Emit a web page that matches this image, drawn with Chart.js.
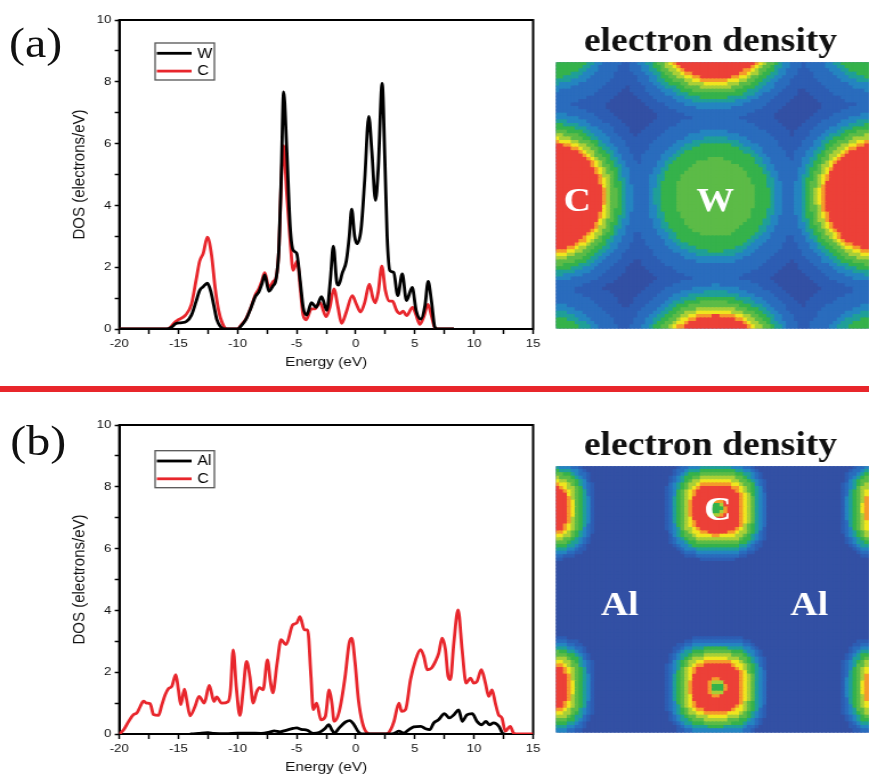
<!DOCTYPE html>
<html>
<head>
<meta charset="utf-8">
<script src="https://cdn.jsdelivr.net/npm/chart.js@4.4.1/dist/chart.umd.min.js"></script>
<style>
  html, body { margin: 0; padding: 0; background: #fff; overflow: hidden; }
  body { width: 869px; height: 777px; position: relative; }
  /* the whole sheet is laid out narrow and stretched sideways */
  #sheet { position: absolute; left: 0; top: 0; width: 762px; height: 777px;
           transform: scaleX(1.1404); transform-origin: 0 0; }
  .box { position: absolute; }
  .tag { position: absolute; font: 42px "Liberation Serif", serif; line-height: 42px; color: #111; }
  #rule { position: absolute; left: 0; top: 386px; width: 762px; height: 6px; background: #e8262b; }
</style>
</head>
<body>
<div id="sheet">
  <div class="tag" style="left:8px; top:22px">(a)</div>
  <div class="tag" style="left:9px; top:420px">(b)</div>
  <div id="rule"></div>
  <div class="box" style="left:0; top:0; width:478px; height:372px"><canvas id="dosA"></canvas></div>
  <div class="box" style="left:0; top:405px; width:478px; height:372px"><canvas id="dosB"></canvas></div>
  <div class="box" style="left:484px; top:0; width:288px; height:332px"><canvas id="mapA"></canvas></div>
  <div class="box" style="left:484px; top:404px; width:288px; height:332px"><canvas id="mapB"></canvas></div>
</div>
<script>
/* ---- DOS of WC ---- */
const energyW = [-20, -16, -15.6, -15.2, -14.8, -14.3, -13.9, -13.5, -13.2, -12.9, -12.55, -12.25, -12.0, -11.75, -11.45, -11.1,
  -10.0, -9.7, -9.3, -8.9, -8.5, -8.2, -7.95, -7.7, -7.35, -7.0, -6.75, -6.5, -6.3, -6.1, -5.85, -5.55, -5.3, -5.0, -4.7, -4.45,
  -4.15, -3.75, -3.35, -2.9, -2.45, -2.15, -1.9, -1.6, -1.45, -1.15, -0.8, -0.55, -0.35, -0.1, 0.1, 0.45, 0.75, 1.1, 1.35, 1.67,
  1.9, 2.23, 2.45, 2.65, 2.88, 3.2, 3.55, 3.93, 4.29, 4.77, 5.1, 5.5, 5.85, 6.12, 6.4, 6.69, 6.9, 8.3];
const dosW = [0, 0, 0.05, 0.18, 0.2, 0.25, 0.45, 0.9, 1.25, 1.37, 1.48, 1.2, 0.75, 0.3, 0.08, 0,
  0, 0.1, 0.3, 0.65, 1.05, 1.2, 1.45, 1.75, 1.22, 1.4, 1.6, 2.6, 5.0, 7.67, 5.9, 3.3, 2.55, 2.45, 1.55, 0.7,
  0.45, 0.85, 0.7, 1.05, 0.6, 1.6, 2.68, 1.5, 1.42, 1.8, 2.2, 3.0, 3.88, 3.0, 2.76, 3.25, 4.8, 6.88, 5.8, 4.16,
  5.2, 7.95, 5.6, 3.0, 1.89, 1.83, 1.08, 1.78, 0.92, 1.35, 0.6, 0.32, 0.75, 1.54, 0.9, 0.05, 0, 0];

const energyCa = [-20, -16, -15.7, -15.3, -15.0, -14.4, -13.9, -13.5, -13.2, -12.9, -12.55, -12.2, -11.9, -11.6, -11.3, -10.9,
  -10.0, -9.7, -9.3, -8.9, -8.5, -8.2, -7.95, -7.7, -7.35, -6.95, -6.75, -6.5, -6.3, -6.1, -5.85, -5.55, -5.3, -4.95, -4.7, -4.45,
  -4.2, -3.75, -3.45, -3.05, -2.5, -2.2, -1.85, -1.5, -1.2, -0.8, -0.3, 0.05, 0.4, 0.75, 1.15, 1.45, 1.65, 1.9, 2.2, 2.5,
  2.85, 3.1, 3.45, 3.75, 4.0, 4.3, 4.8, 5.1, 5.42, 5.75, 6.1, 6.35, 6.65, 6.9, 8.3];
const dosCa = [0, 0, 0.05, 0.22, 0.3, 0.45, 0.8, 1.6, 2.2, 2.45, 2.97, 2.4, 1.35, 0.6, 0.2, 0,
  0, 0.13, 0.32, 0.67, 1.1, 1.3, 1.55, 1.82, 1.35, 1.55, 1.65, 2.6, 4.8, 5.93, 4.45, 2.86, 1.9, 2.2, 1.35, 0.45,
  0.3, 0.65, 0.65, 0.86, 0.4, 0.7, 1.3, 0.7, 0.18, 0.55, 1.08, 0.8, 0.55, 0.85, 1.45, 1.0, 0.85, 1.2, 2.03, 1.25,
  0.9, 0.9, 0.6, 0.5, 0.58, 0.43, 0.7, 0.45, 0.15, 0.4, 0.8, 0.5, 0.07, 0, 0];

/* ---- DOS of Al4C3 ---- */
const energyAl = [-14, -13.3, -12.5, -12.0, -11, -10, -9, -8, -7.3, -6.9, -6.4, -5.9, -5.3, -5.0, -4.6, -4.1, -3.6, -3.1,
  -2.6, -2.3, -2.0, -1.8, -1.4, -0.9, -0.5, -0.15, 0.2, 0.5, 3.0, 3.3, 3.65, 4.05, 4.5, 4.9, 5.5, 5.9, 6.25, 6.6,
  7.0, 7.5, 7.9, 8.3, 8.7, 9.0, 9.4, 9.85, 10.25, 10.65, 11.0, 11.3, 11.65, 12.1, 12.4, 12.6];
const dosAl = [0, 0.02, 0.04, 0.02, 0.01, 0.03, 0.03, 0.02, 0.06, 0.1, 0.07, 0.12, 0.18, 0.2, 0.15, 0.12, 0.02, 0.05,
  0.18, 0.3, 0.12, 0.03, 0.2, 0.38, 0.43, 0.3, 0.08, 0, 0, 0.03, 0.09, 0.03, 0.14, 0.23, 0.25, 0.17, 0.14, 0.36,
  0.46, 0.66, 0.52, 0.62, 0.78, 0.41, 0.62, 0.66, 0.41, 0.3, 0.41, 0.3, 0.36, 0.25, 0.03, 0];

const energyCb = [-20, -19.63, -19.21, -18.79, -18.51, -18.23, -17.95, -17.67, -17.39, -17.11, -16.69, -16.4, -16.12, -15.84,
  -15.56, -15.22, -15.0, -14.8, -14.49, -14.3, -14.02, -13.6, -13.26, -12.81, -12.39, -11.99, -11.77, -11.35, -10.79, -10.6,
  -10.37, -10.1, -9.8, -9.52, -9.24, -8.96, -8.68, -8.4, -8.15, -7.84, -7.47, -7.22, -7.02, -6.65, -6.32, -5.9, -5.34, -5.0,
  -4.72, -4.35, -4.07, -3.79, -3.6, -3.31, -2.95, -2.58, -2.25, -2.02, -1.83, -1.4, -0.9, -0.56, -0.34, -0.06, 0.22, 0.56,
  0.98, 1.3, 2.6, 2.95, 3.23, 3.65, 3.88, 4.21, 4.63, 5.06, 5.48, 5.76, 6.04, 6.4, 6.74, 7.02, 7.3, 7.58, 7.81, 8.0, 8.29,
  8.65, 8.99, 9.33, 9.7, 9.97, 10.25, 10.62, 10.96, 11.24, 11.52, 11.8, 12.08, 12.36, 12.64, 13.06, 13.34, 13.62, 15];
const dosCb = [0, 0.14, 0.41, 0.63, 0.68, 0.89, 1.06, 1.0, 0.98, 0.63, 0.6, 0.95, 1.27, 1.47,
  1.54, 1.92, 1.43, 0.95, 1.45, 1.1, 0.59, 0.89, 1.22, 1.0, 1.57, 1.05, 1.2, 1.0, 1.05, 1.4,
  2.72, 1.5, 0.6, 1.43, 2.35, 1.86, 1.0, 1.35, 1.5, 1.43, 2.4, 1.7, 1.33, 2.3, 3.05, 2.89, 3.53, 3.59,
  3.8, 3.37, 3.37, 1.86, 0.79, 1.0, 0.46, 0.57, 1.43, 1.0, 0.41, 0.73, 1.86, 2.94, 3.1, 2.3, 1.11, 0.36,
  0.03, 0, 0, 0.14, 0.41, 1.0, 0.73, 0.79, 1.76, 2.4, 2.73, 2.5, 2.08, 2.13, 2.35, 2.62, 3.1, 2.73, 1.86, 1.76, 2.94,
  4.02, 2.73, 1.65, 1.81, 1.65, 1.7, 2.08, 1.65, 1.22, 1.43, 1.0, 0.62, 0.52, 0.09, 0.25, 0.03, 0, 0];

const energyTicks = [-20, -15, -10, -5, 0, 5, 10, 15];
const dosTicks = [0, 2, 4, 6, 8, 10];

/* ---- charge density maps: atomic sites in fractions of the map ---- */
const sitesAx = [-0.025, 1.035, 0.51, 0.51, 0.51, -0.025, 1.035, -0.025, 1.035];
const sitesAy = [0.51, 0.51, -0.138, 1.158, 0.51, -0.138, -0.138, 1.158, 1.158];
const sitesAkind = ['C', 'C', 'C', 'C', 'W', 'W', 'W', 'W', 'W'];
const labelsAtext = ['C', 'W'];
const labelsAx = [0.068, 0.509];
const labelsAy = [0.528, 0.528];

const sitesBx = [-0.038, 0.516, 1.076, -0.038, 0.516, 1.076];
const sitesBy = [0.163, 0.163, 0.163, 0.833, 0.833, 0.833];
const sitesBkind = ['C', 'C', 'C', 'C', 'C', 'C'];
const labelsBtext = ['C', 'Al', 'Al'];
const labelsBx = [0.517, 0.204, 0.809];
const labelsBy = [0.168, 0.525, 0.525];

// contour colours, low to high density
const bandColors = ['#3350a4', '#2d5db3', '#2a6cbd', '#2485c0', '#1f9f98', '#35b24b',
  '#5cbb47', '#a9cf38', '#efe51f', '#f59a2b', '#ec4038'];

// [outer radius in px, band] from the centre of each atom outwards
const bandsA = {
  C: [[55, 10], [58, 9], [61, 8], [65, 7], [70, 6], [75, 5], [80, 4], [86, 3], [96, 2], [108, 1]],
  W: [[40, 6], [55, 5], [61, 4], [68, 3], [84, 2], [100, 1]]
};
const bandsB = {
  C: [[5, 5], [7, 7], [9, 9], [24, 10], [27, 9], [30, 8], [33.5, 7], [37, 6], [40, 5], [43, 4], [46, 3], [49, 2], [52, 1]]
};

const MAP_W = 316, MAP_H = 270, MAP_COLS = 80, MAP_ROWS = 78;

function bandAt(bands, r) {
  for (const [edge, level] of bands) if (r < edge) return level;
  return 0;
}

// sample the map on a grid; p shapes the contours (2 = round, >2 = squarish)
function densityCells(sx, sy, kind, bands, p) {
  const cells = [];
  for (let j = 0; j < MAP_ROWS; j++) {
    for (let i = 0; i < MAP_COLS; i++) {
      const fx = (i + 0.5) / MAP_COLS, fy = (j + 0.5) / MAP_ROWS;
      let v = 0;
      for (let k = 0; k < sx.length; k++) {
        const dx = Math.abs(fx - sx[k]) * MAP_W, dy = Math.abs(fy - sy[k]) * MAP_H;
        const r = Math.pow(Math.pow(dx, p) + Math.pow(dy, p), 1 / p);
        v = Math.max(v, bandAt(bands[kind[k]], r));
      }
      cells.push({ x: fx, y: fy, v });
    }
  }
  return cells;
}

const pairs = (xs, ys) => xs.map((x, i) => ({ x, y: ys[i] }));

/* ---- plugins ---- */
const frame = {
  id: 'frame',
  beforeDatasetsDraw(chart) {
    const { ctx, chartArea: a } = chart;
    ctx.save();
    ctx.strokeStyle = '#000';
    ctx.lineWidth = 2;
    ctx.strokeRect(a.left, a.top, a.right - a.left, a.bottom - a.top);
    ctx.restore();
  }
};

// paint the map area with the lowest band first so no gaps show between cells
const mapBase = {
  id: 'mapBase',
  beforeDatasetsDraw(chart) {
    const { ctx, chartArea: a } = chart;
    ctx.save();
    ctx.fillStyle = bandColors[0];
    ctx.fillRect(a.left, a.top, a.right - a.left, a.bottom - a.top);
    ctx.restore();
  }
};

function boxLegend(dx, dy) {
  return {
    id: 'boxLegend',
    afterDatasetsDraw(chart) {
      const { ctx, chartArea } = chart;
      const x = chartArea.left + dx, y = chartArea.top + dy;
      ctx.save();
      ctx.fillStyle = '#fff';
      ctx.fillRect(x, y, 52, 37);
      ctx.strokeStyle = '#555';
      ctx.lineWidth = 1.3;
      ctx.strokeRect(x, y, 52, 37);
      chart.data.datasets.forEach((ds, i) => {
        const cy = y + 10.3 + i * 17.8;
        ctx.strokeStyle = ds.borderColor;
        ctx.lineWidth = 2.8;
        ctx.beginPath();
        ctx.moveTo(x + 1.5, cy);
        ctx.lineTo(x + 32, cy);
        ctx.stroke();
        ctx.fillStyle = '#000';
        ctx.font = '14px "Liberation Sans"';
        ctx.textBaseline = 'middle';
        ctx.fillText(ds.label, x + 37, cy + 0.5);
      });
      ctx.restore();
    }
  };
}

function siteLabels(text, xs, ys) {
  return {
    id: 'siteLabels',
    afterDatasetsDraw(chart) {
      const { ctx, scales: { x, y } } = chart;
      ctx.save();
      ctx.fillStyle = '#fff';
      ctx.font = 'bold 33px "Liberation Serif"';
      ctx.textAlign = 'center';
      ctx.textBaseline = 'middle';
      text.forEach((t, i) => ctx.fillText(t, x.getPixelForValue(xs[i]), y.getPixelForValue(ys[i])));
      ctx.restore();
    }
  };
}

/* ---- charts ---- */
const axisFont = { family: 'Liberation Sans', size: 11.5 };
const titleFont = { family: 'Liberation Sans', size: 13.5 };

function dosChart(id, series, legendDy) {
  return new Chart(document.getElementById(id), {
    type: 'line',
    data: {
      datasets: series.map(s => ({
        label: s.label,
        data: pairs(s.x, s.y),
        borderColor: s.color,
        borderWidth: 2.8,
        pointRadius: 0,
        cubicInterpolationMode: 'monotone',
        fill: false
      }))
    },
    options: {
      responsive: true,
      maintainAspectRatio: false,
      animation: false,
      events: [],
      layout: { padding: { left: 56, right: 10.5, top: 20, bottom: 1 } },
      scales: {
        x: {
          type: 'linear', min: -20, max: 15,
          afterFit: s => { s.height = 42; },
          ticks: {
            stepSize: 2.5, autoSkip: false, maxRotation: 0, padding: 3, color: '#111', font: axisFont,
            callback: v => energyTicks.includes(v) ? v : ''
          },
          grid: { drawOnChartArea: false, drawTicks: true, tickLength: 5, tickColor: '#000', tickWidth: 1.5 },
          border: { display: true, color: '#000', width: 2 },
          title: { display: true, text: 'Energy (eV)', color: '#111', font: titleFont, padding: { top: 0, bottom: 1 } }
        },
        y: {
          min: 0, max: 10,
          afterFit: s => { s.width = 48.6; },
          ticks: {
            stepSize: 1, autoSkip: false, padding: 3, color: '#111', font: axisFont,
            callback: v => dosTicks.includes(v) ? v : ''
          },
          grid: { drawOnChartArea: false, drawTicks: true, tickLength: 4, tickColor: '#000', tickWidth: 1.5 },
          border: { display: true, color: '#000', width: 2 },
          title: { display: true, text: 'DOS (electrons/eV)', color: '#111',
                   font: { family: 'Liberation Sans', size: 15 }, padding: { top: 4.4, bottom: 0 } }
        }
      },
      plugins: { legend: { display: false }, tooltip: { enabled: false } }
    },
    plugins: [frame, boxLegend(31.4, legendDy)]
  });
}

function densityChart(id, cells, labels) {
  return new Chart(document.getElementById(id), {
    type: 'scatter',
    data: {
      datasets: [{
        data: cells,
        pointStyle: 'rect',
        pointRadius: 3.5,
        pointHoverRadius: 3.5,
        pointBorderWidth: 0,
        pointHoverBorderWidth: 0,
        borderWidth: 0,
        pointBackgroundColor: c => bandColors[c.raw ? c.raw.v : 0]
      }]
    },
    options: {
      responsive: true,
      maintainAspectRatio: false,
      animation: false,
      events: [],
      layout: { padding: { right: 10 } },
      scales: {
        x: { display: false, min: 0, max: 1 },
        y: { display: false, min: 0, max: 1, reverse: true }
      },
      plugins: {
        legend: { display: false },
        tooltip: { enabled: false },
        title: {
          display: true, text: 'electron density', color: '#111',
          font: { family: 'Liberation Serif', size: 33, weight: 'bold', lineHeight: 1.2 },
          padding: { top: 22.2, bottom: 0.5 }
        }
      }
    },
    plugins: [mapBase, labels]
  });
}

dosChart('dosA', [
  { label: 'W', x: energyW, y: dosW, color: '#000' },
  { label: 'C', x: energyCa, y: dosCa, color: '#e8262c' }
], 23);
dosChart('dosB', [
  { label: 'Al', x: energyAl, y: dosAl, color: '#000' },
  { label: 'C', x: energyCb, y: dosCb, color: '#e8262c' }
], 25.7);

densityChart('mapA', densityCells(sitesAx, sitesAy, sitesAkind, bandsA, 2),
  siteLabels(labelsAtext, labelsAx, labelsAy));
densityChart('mapB', densityCells(sitesBx, sitesBy, sitesBkind, bandsB, 3),
  siteLabels(labelsBtext, labelsBx, labelsBy));
</script>
</body>
</html>
